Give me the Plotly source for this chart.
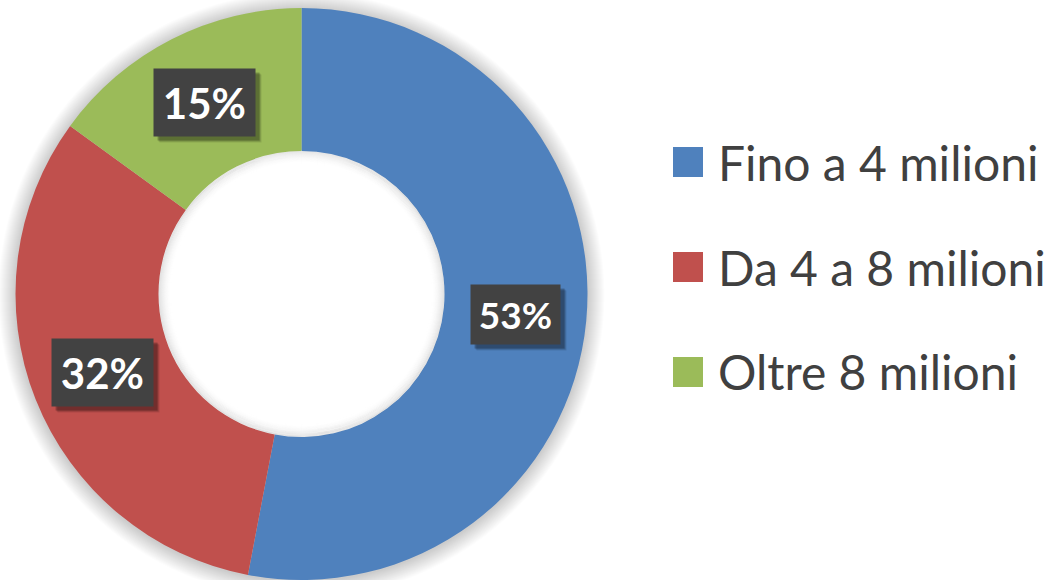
import plotly.graph_objects as go
import math

# ---- data ----
categories = ["Fino a 4 milioni", "Da 4 a 8 milioni", "Oltre 8 milioni"]
values = [53, 32, 15]
pct_labels = ["53%", "32%", "15%"]

# ---- style ----
colors = ["#4F81BD", "#C0504D", "#9BBB59"]
label_sizes = [37, 42, 42]
W, H = 1054, 580
CX, CY = 301.5, 294.0   # centre in px
R_OUT = 286.0
HOLE = 0.5
R_IN = R_OUT * HOLE
TXT = "#404040"

def px_x(x):
    return x / W

def px_y(y):
    return 1 - y / H

def circ(r, dy=0.0, **kw):
    d = dict(type="circle", xref="paper", yref="paper",
             x0=px_x(CX - r), x1=px_x(CX + r),
             y0=px_y(CY + r + dy), y1=px_y(CY - r + dy))
    d.update(kw)
    return d

fig = go.Figure()
fig.add_trace(go.Pie(
    labels=categories, values=values, hole=HOLE, sort=False,
    direction="clockwise", rotation=0,
    marker=dict(colors=colors, line=dict(width=0)),
    textinfo="none", hoverinfo="label+percent", showlegend=False,
    domain=dict(x=[px_x(CX - R_OUT), px_x(CX + R_OUT)],
                y=[px_y(CY + R_OUT), px_y(CY - R_OUT)]),
))

shapes = []
# soft outer shadow
for k in range(1, 18):
    shapes.append(circ(R_OUT + k, dy=1, layer="below",
                       fillcolor="rgba(0,0,0,0.012)", line=dict(width=0)))
# white hole background (covers shadow)
shapes.append(circ(R_IN + 1, layer="below", fillcolor="white", line=dict(width=0)))
# soft inner shadow in hole
for k in range(0, 14):
    a = 0.10 * (1 - k / 14) ** 2
    shapes.append(circ(R_IN - k - 0.5, layer="above", fillcolor="rgba(0,0,0,0)",
                       line=dict(width=1.2, color=f"rgba(0,0,0,{a:.4f})")))

annotations = []
# data labels at ring middle, positions from the values
total = sum(values)
cum = 0
r_mid = (R_OUT + R_IN) / 2
for v, lab, sz in zip(values, pct_labels, label_sizes):
    mid = (cum + v / 2) / total * 2 * math.pi
    cum += v
    lx = CX + r_mid * math.sin(mid)
    ly = CY - r_mid * math.cos(mid)
    bw, bh = sz * 2.4, sz * 1.6
    common = dict(x=px_x(lx), y=px_y(ly), xref="paper", yref="paper",
                  xanchor="center", yanchor="middle", showarrow=False,
                  width=bw, height=bh, borderpad=0)
    for sh, al in [(6, 0.10), (5, 0.15), (4, 0.22)]:
        annotations.append(dict(common, text=" ", xshift=sh, yshift=-sh,
                                bgcolor=f"rgba(0,0,0,{al})", font=dict(size=sz)))
    annotations.append(dict(common, text=f"<b>{lab}</b>", bgcolor="#424242",
                            font=dict(family="Lato", size=sz, color="white")))

# custom legend
leg_x_sq = 673
leg_sq = 30
leg_y0 = 162
leg_dy = 105
for i, (cat, col) in enumerate(zip(categories, colors)):
    yc = leg_y0 + i * leg_dy
    shapes.append(dict(type="rect", xref="paper", yref="paper", layer="above",
                       x0=px_x(leg_x_sq), x1=px_x(leg_x_sq + leg_sq),
                       y0=px_y(yc + leg_sq / 2), y1=px_y(yc - leg_sq / 2),
                       fillcolor=col, line=dict(width=0)))
    annotations.append(dict(x=px_x(716), y=px_y(yc), xref="paper", yref="paper",
                            xanchor="left", yanchor="middle", text=cat, showarrow=False,
                            font=dict(family="Lato", size=48, color=TXT)))

fig.update_layout(width=W, height=H, margin=dict(l=0, r=0, t=0, b=0),
                  paper_bgcolor="white", plot_bgcolor="white",
                  shapes=shapes, annotations=annotations)

fig.write_html("out.html", config={"displayModeBar": False},
               post_script="document.body.style.margin='0';")
